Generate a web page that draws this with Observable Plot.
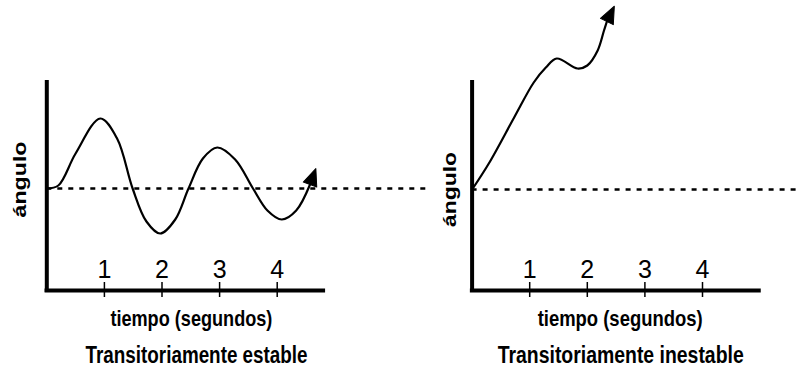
<!DOCTYPE html>
<html><head><meta charset="utf-8">
<script src="https://cdn.jsdelivr.net/npm/d3@7"></script>
<script src="https://cdn.jsdelivr.net/npm/@observablehq/plot@0.6"></script>
<style>
html,body{margin:0;padding:0;background:#fff;}
#wrap{position:relative;width:798px;height:376px;overflow:hidden;background:#fff;}
#left,#right{position:absolute;top:0;}
#left{left:0;} #right{left:440px;}
svg{overflow:visible}
</style></head><body><div id="wrap"><div id="left"></div><div id="right"></div></div>
<script>
// Tick labels (seconds)
const tickValues = [1, 2, 3, 4];

// Transitoriamente estable: time (s) and angle (arbitrary units, 0 = reference)
const stableT = [0, 0.2, 0.5, 0.93, 1.22, 1.49, 1.73, 1.97, 2.23, 2.46, 2.71, 2.96, 3.27, 3.58, 3.83, 4.08, 4.33, 4.57];
const stableV = [0, 3, 35, 70, 50, 0, -33, -45, -31, 0, 30, 41, 29, 0, -22, -31, -22, 4];

// Transitoriamente inestable
const unstableT = [0, 0.29, 0.73, 1.07, 1.28, 1.47, 1.83, 2.0, 2.18, 2.29, 2.34];
const unstableV = [0, 26, 72, 107, 122, 131, 121, 124, 139, 159, 168];

// Texts
const yLabel = "ángulo";
const xLabel = "tiempo (segundos)";
const titles = ["Transitoriamente estable", "Transitoriamente inestable"];

const sans = "'Liberation Sans',Arial,Helvetica,sans-serif";

// Shape for a filled arrowhead (vector mark)
const arrowHead = {
  draw(context, l) {
    const w = l * 0.42;
    context.moveTo(0, -l);
    context.lineTo(w, 0);
    context.lineTo(-w, 0);
    context.closePath();
  }
};

function panel({width, originX, zeroY, T, V, axisBottom, axisTop, xAxisEnd, dashEnd, arrowRotate, title, yDx, yDy, xLabelX, titleX, fit}) {
  const pts = T.map((t, i) => ({t, v: V[i]}));
  const last = pts[pts.length - 1];
  const unit = 57.6;
  const svg = Plot.plot({
    width, height: 376,
    marginTop: 0, marginRight: 0, marginBottom: 0, marginLeft: 0,
    x: {domain: [0, 1], range: [originX, originX + unit], axis: null},
    y: {domain: [0, 1], range: [zeroY, zeroY - 1], axis: null},
    style: {background: "transparent", overflow: "visible"},
    marks: [
      // dashed reference line
      Plot.ruleY([0], {x1: 0, x2: dashEnd, stroke: "#000", strokeWidth: 2.6, strokeDasharray: "5,6"}),
      // axes
      Plot.ruleX([0], {y1: axisBottom - 2, y2: axisTop, stroke: "#000", strokeWidth: 4}),
      Plot.ruleY([axisBottom], {x1: -0.03, x2: xAxisEnd, stroke: "#000", strokeWidth: 4}),
      Plot.ruleX(tickValues, {x: d => d, y1: axisBottom - 7, y2: axisBottom + 8, stroke: "#000", strokeWidth: 1.5}),
      Plot.text(tickValues, {x: d => d, y: axisBottom, dy: -21, text: d => String(d), fontSize: 25, fontFamily: sans, fill: "#000"}),
      // curve
      Plot.line(pts, {x: "t", y: "v", curve: "catmull-rom", stroke: "#000", strokeWidth: 2.2}),
      Plot.vector([last], {x: "t", y: "v", rotate: arrowRotate, length: 17, anchor: "start", shape: arrowHead, fill: "#000", stroke: "#000", strokeWidth: 1}),
      // labels
      Plot.text([yLabel], {x: 0, y: 0, dx: yDx, dy: yDy, rotate: -90, fontSize: 19, fontWeight: "bold", fontFamily: sans, fill: "#000"}),
      Plot.text([xLabel], {x: xLabelX, frameAnchor: "bottom", dy: -51, fontSize: 22, fontWeight: "bold", fontFamily: sans, fill: "#000"}),
      Plot.text([title], {x: titleX, frameAnchor: "bottom", dy: -13.5, fontSize: 23, fontWeight: "bold", fontFamily: sans, fill: "#000"})
    ]
  });
  // condensed lettering: fit each label to its width in the reference
  d3.select(svg).selectAll("text").each(function() {
    const w = fit[this.textContent];
    if (w) d3.select(this).attr("textLength", w).attr("lengthAdjust", "spacingAndGlyphs");
  });
  return svg;
}

document.getElementById("left").append(panel({
  width: 440, originX: 46.3, zeroY: 188, T: stableT, V: stableV,
  axisBottom: -102, axisTop: 108, xAxisEnd: 4.84, dashEnd: 6.6, arrowRotate: 20,
  title: titles[0], yDx: -27, yDy: -9, xLabelX: 2.51, titleX: 2.6,
  fit: {[xLabel]: 162, [titles[0]]: 222, [yLabel]: 76}
}));
document.getElementById("right").append(panel({
  width: 358, originX: 31.6, zeroY: 189, T: unstableT, V: unstableV,
  axisBottom: -101, axisTop: 109, xAxisEnd: 5.02, dashEnd: 5.7, arrowRotate: 26,
  title: titles[1], yDx: -22, yDy: 0, xLabelX: 2.57, titleX: 2.58,
  fit: {[xLabel]: 165, [titles[1]]: 246, [yLabel]: 75}
}));
</script>
</body></html>
